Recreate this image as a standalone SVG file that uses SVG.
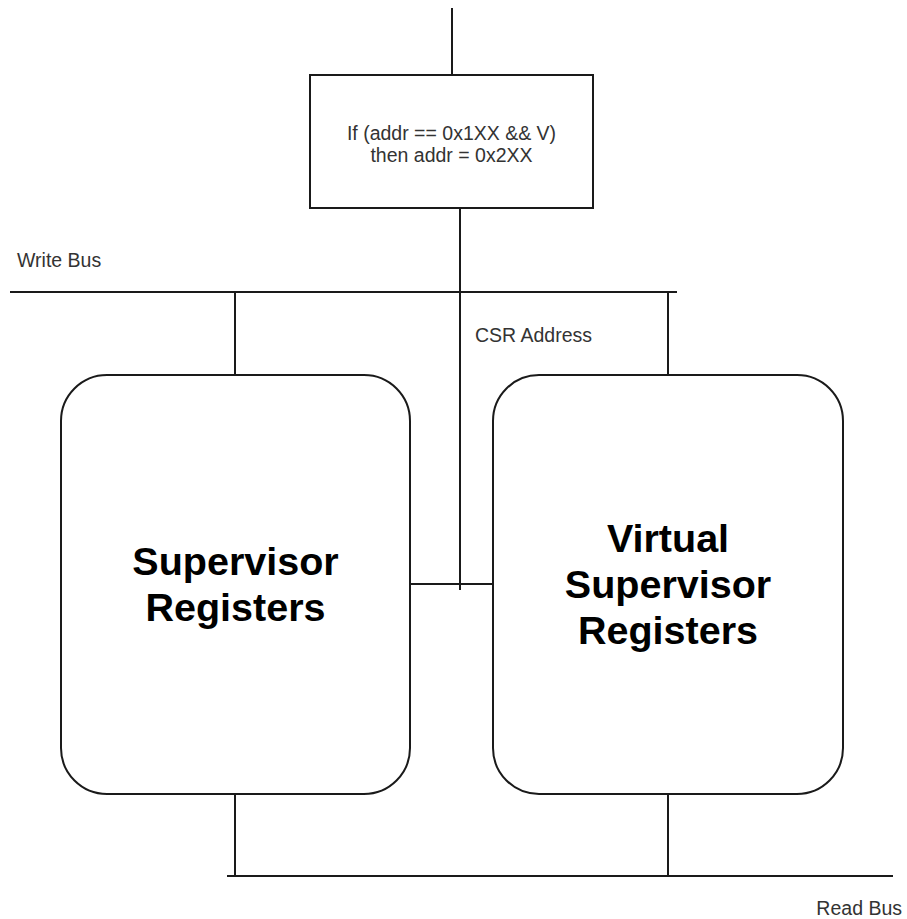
<svg xmlns="http://www.w3.org/2000/svg" width="907" height="919" viewBox="0 0 907 919">
<style>
.ln{stroke:#1a1a1a;stroke-width:2;fill:none}
.box{stroke:#1a1a1a;stroke-width:2;fill:#fff}
.sm{font-family:"Liberation Sans",Arial,sans-serif;font-size:19.5px;fill:#333}
.big{font-family:"Liberation Sans",Arial,sans-serif;font-size:39.5px;font-weight:bold;fill:#000;text-anchor:middle}
</style>
<rect width="907" height="919" fill="#fff"/>
<g id="connectors">
<line class="ln" x1="452" y1="8" x2="452" y2="75"/>
<line class="ln" x1="460" y1="208" x2="460" y2="590"/>
<line class="ln" x1="10" y1="292" x2="677" y2="292"/>
<line class="ln" x1="235" y1="292" x2="235" y2="375"/>
<line class="ln" x1="668" y1="292" x2="668" y2="375"/>
<line class="ln" x1="410" y1="584" x2="493" y2="584"/>
<line class="ln" x1="235" y1="794" x2="235" y2="876"/>
<line class="ln" x1="668" y1="794" x2="668" y2="876"/>
<line class="ln" x1="227" y1="876" x2="893" y2="876"/>
</g>
<g id="labels">
<text class="sm" x="17" y="267">Write Bus</text>
<text class="sm" x="475" y="342">CSR Address</text>
<text class="sm" x="902" y="915" text-anchor="end">Read Bus</text>
</g>
<g id="remap">
<rect class="box" x="310" y="75" width="283" height="133"/>
<text class="sm" x="451.5" y="140" text-anchor="middle">If (addr == 0x1XX &amp;&amp; V)</text>
<text class="sm" x="451.5" y="162" text-anchor="middle">then addr = 0x2XX</text>
</g>
<g id="supervisor">
<rect class="box" x="61" y="375" width="349" height="419" rx="46" ry="46"/>
<text class="big" x="235.5" y="575">Supervisor</text>
<text class="big" x="235.5" y="621">Registers</text>
</g>
<g id="virtual">
<rect class="box" x="493" y="375" width="350" height="419" rx="46" ry="46"/>
<text class="big" x="668" y="552">Virtual</text>
<text class="big" x="668" y="598">Supervisor</text>
<text class="big" x="668" y="644">Registers</text>
</g>
</svg>
